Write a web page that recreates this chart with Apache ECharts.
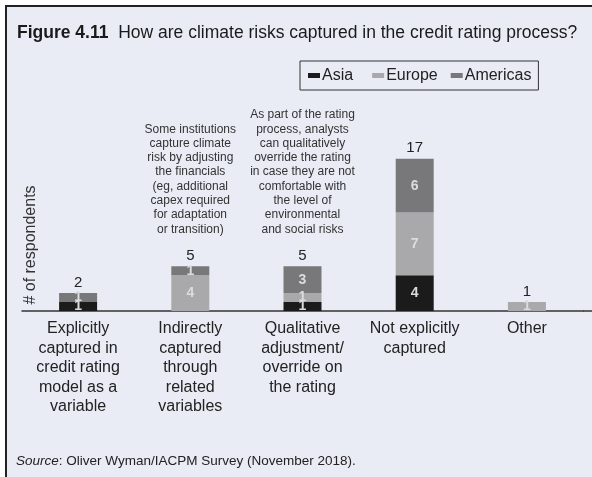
<!DOCTYPE html>
<html>
<head>
<meta charset="utf-8">
<script src="https://cdn.jsdelivr.net/npm/echarts@6/dist/echarts.min.js"></script>
<style>
  body { margin: 0; background: #ffffff; }
  #wrap { position: relative; width: 592px; height: 477px; overflow: hidden; }
  #frame { position: absolute; left: 5px; top: 5px; width: 600px; height: 480px;
           border-left: 2px solid #222; border-top: 2px solid #222; background: #e9ecf5; }
  #chart { position: absolute; left: 0; top: 0; width: 592px; height: 477px; }
</style>
</head>
<body>
<div id="wrap">
  <div id="frame"></div>
  <div id="chart"></div>
</div>
<script>
// categories (x axis)
var categories = [
    'Explicitly\ncaptured in\ncredit rating\nmodel as a\nvariable',
    'Indirectly\ncaptured\nthrough\nrelated\nvariables',
    'Qualitative\nadjustment/\noverride on\nthe rating',
    'Not explicitly\ncaptured',
    'Other'
];
// respondents per region
var asia     = [1, 0, 1, 4, 0];
var europe   = [0, 4, 1, 7, 1];
var americas = [1, 1, 3, 6, 0];
var totals   = [2, 5, 5, 17, 1];

// notes written above two of the bars
var notes = [
    { idx: 1, text: 'Some institutions\ncapture climate\nrisk by adjusting\nthe financials\n(eg, additional\ncapex required\nfor adaptation\nor transition)' },
    { idx: 2, text: 'As part of the rating\nprocess, analysts\ncan qualitatively\noverride the rating\nin case they are not\ncomfortable with\nthe level of\nenvironmental\nand social risks' }
];

var FONT = '"Liberation Sans", Arial, Helvetica, sans-serif';

var myChart = echarts.init(document.getElementById('chart'), null, { renderer: 'canvas' });

function segLabel() {
    return {
        show: true,
        position: 'inside',
        color: '#dcdcdc',
        fontSize: 14,
        fontWeight: 'bold',
        fontFamily: FONT,
        formatter: function (p) { return p.value > 0 ? p.value : ''; }
    };
}

var option = {
    backgroundColor: 'transparent',
    textStyle: { fontFamily: FONT },
    title: {
        left: 17,
        top: 24,
        padding: 0,
        text: '{b|Figure 4.11}  How are climate risks captured in the credit rating process?',
        textStyle: {
            fontSize: 17.5,
            color: '#1a1a1a',
            fontWeight: 'normal',
            fontFamily: FONT,
            rich: { b: { fontSize: 17.5, fontWeight: 'bold', color: '#1a1a1a', fontFamily: FONT } }
        }
    },
    legend: {
        data: [
            { name: 'Asia', textStyle: { padding: [0, 6, 0, -3] } },
            'Europe',
            'Americas'
        ],
        left: 300,
        top: 61,
        orient: 'horizontal',
        padding: [6, 7, 6, 8],
        borderColor: '#333',
        borderWidth: 1,
        icon: 'rect',
        itemWidth: 12,
        itemHeight: 5,
        itemGap: 13,
        textStyle: { fontSize: 16, color: '#222', fontFamily: FONT, lineHeight: 17, padding: [0, 0, 0, -3] }
    },
    grid: { left: 22, right: 9, top: 132, bottom: 166 },
    xAxis: {
        type: 'category',
        data: categories,
        axisLine: { lineStyle: { color: '#333', width: 1.5 } },
        axisTick: { show: false },
        axisLabel: {
            interval: 0,
            margin: 8,
            fontSize: 16,
            lineHeight: 19.5,
            color: '#222',
            fontFamily: FONT
        }
    },
    yAxis: {
        type: 'value',
        min: 0,
        max: 20,
        axisLine: { show: false },
        axisTick: { show: false },
        axisLabel: { show: false },
        splitLine: { show: false }
    },
    series: [
        { name: 'Asia', type: 'bar', stack: 'r', data: asia, barWidth: 38,
          itemStyle: { color: '#1c1b1c' }, label: segLabel() },
        { name: 'Europe', type: 'bar', stack: 'r', data: europe, barWidth: 38,
          itemStyle: { color: '#a9a9ac' }, label: segLabel() },
        { name: 'Americas', type: 'bar', stack: 'r', data: americas, barWidth: 38,
          itemStyle: { color: '#78787b' }, label: segLabel() },
        { name: 'total', type: 'bar', stack: 'r', data: totals.map(function () { return 0; }), barWidth: 38,
          itemStyle: { color: 'transparent' },
          label: {
              show: true, position: 'top', distance: 3,
              fontSize: 15, color: '#222', fontFamily: FONT,
              formatter: function (p) { return totals[p.dataIndex]; }
          }
        }
    ]
};

myChart.setOption(option);

// note blocks, centred over their bars
var graphics = notes.map(function (n) {
    var x = myChart.convertToPixel({ xAxisIndex: 0 }, n.idx);
    var lines = n.text.split('\n').length;
    return {
        type: 'text',
        x: x,
        y: 236.5 - lines * 14.3,
        style: {
            text: n.text,
            fontSize: 12,
            lineHeight: 14.3,
            fill: '#333',
            align: 'center',
            verticalAlign: 'top',
            fontFamily: FONT
        }
    };
});
// axis line runs on to the right edge of the figure
var base = myChart.convertToPixel({ yAxisIndex: 0 }, 0);
graphics.push({
    type: 'line',
    shape: { x1: 583, y1: base, x2: 592, y2: base },
    style: { stroke: '#333', lineWidth: 1.5 }
});
graphics.push({
    type: 'text',
    x: 31,
    y: 245,
    rotation: Math.PI / 2,
    style: {
        text: '# of respondents',
        fontSize: 16,
        fill: '#333',
        align: 'center',
        verticalAlign: 'middle',
        fontFamily: FONT
    }
});
graphics.push({
    type: 'text',
    left: 16,
    top: 454,
    style: {
        rich: { i: { fontStyle: 'italic', fontSize: 13.5, fill: '#222', fontFamily: FONT },
                n: { fontSize: 13.5, fill: '#222', fontFamily: FONT } },
        text: '{i|Source}{n|: Oliver Wyman/IACPM Survey (November 2018).}'
    }
});
myChart.setOption({ graphic: graphics });
</script>
</body>
</html>
